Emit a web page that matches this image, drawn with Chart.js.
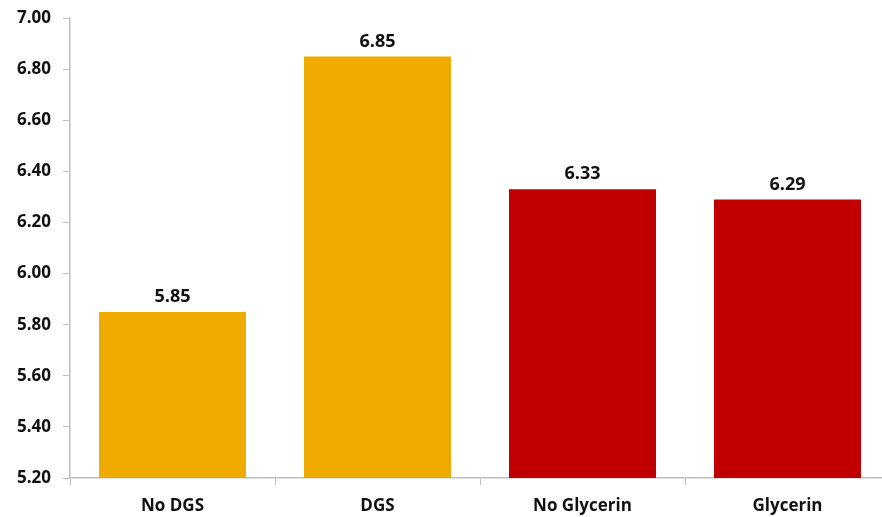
<!DOCTYPE html>
<html>
<head>
<meta charset="utf-8">
<script src="https://cdn.jsdelivr.net/npm/chart.js@4/dist/chart.umd.min.js"></script>
<style>
  html, body { margin: 0; padding: 0; background: #fff; overflow: hidden; }
  #wrap { width: 882px; height: 517px; overflow: hidden; }
  #c { display: block; margin-top: -4px; }
</style>
</head>
<body>
<div id="wrap"><canvas id="c" width="890" height="521"></canvas></div>
<script>
const categories = ['No DGS', 'DGS', 'No Glycerin', 'Glycerin'];
const values = [5.85, 6.85, 6.33, 6.29];
const barColors = ['#F0AB00', '#F0AB00', '#C00000', '#C00000'];
const yMin = 5.2, yMax = 7.0, yStep = 0.2;

const FONT = '"Open Sans", Lato, sans-serif';

// Writes each bar's value just above its top
const valueLabels = {
  id: 'valueLabels',
  afterDatasetsDraw(chart) {
    const ctx = chart.ctx;
    const meta = chart.getDatasetMeta(0);
    ctx.save();
    ctx.font = 'bold 18px ' + FONT;
    ctx.fillStyle = '#111';
    ctx.textAlign = 'center';
    ctx.textBaseline = 'bottom';
    meta.data.forEach((bar, i) => {
      ctx.fillText(values[i].toFixed(2), bar.x, bar.y - 6);
    });
    ctx.restore();
  }
};

new Chart(document.getElementById('c'), {
  type: 'bar',
  data: {
    labels: categories,
    datasets: [{
      data: values,
      backgroundColor: barColors,
      borderWidth: 0,
      categoryPercentage: 0.717,
      barPercentage: 1.0
    }]
  },
  options: {
    responsive: false,
    animation: false,
    layout: { padding: { top: 4, right: 0, bottom: 0, left: 0 } },
    plugins: { legend: { display: false }, tooltip: { enabled: false } },
    scales: {
      x: {
        grid: { display: true, drawOnChartArea: false, offset: true, tickLength: 7, color: '#BFBFBF' },
        border: { color: '#BFBFBF', width: 1.5 },
        ticks: { color: '#111', font: { family: FONT, size: 17, weight: 'bold' }, padding: 11 },
        afterFit(s) { s.height = 39; }
      },
      y: {
        min: yMin, max: yMax,
        grid: { display: true, drawOnChartArea: false, tickLength: 7, color: '#BFBFBF' },
        border: { color: '#BFBFBF', width: 1.5 },
        ticks: {
          stepSize: yStep,
          color: '#111',
          font: { family: FONT, size: 17, weight: 'bold' },
          padding: 12,
          callback: v => Number(v).toFixed(2)
        },
        afterFit(s) { s.width = 70; }
      }
    }
  },
  plugins: [valueLabels]
});
</script>
</body>
</html>
